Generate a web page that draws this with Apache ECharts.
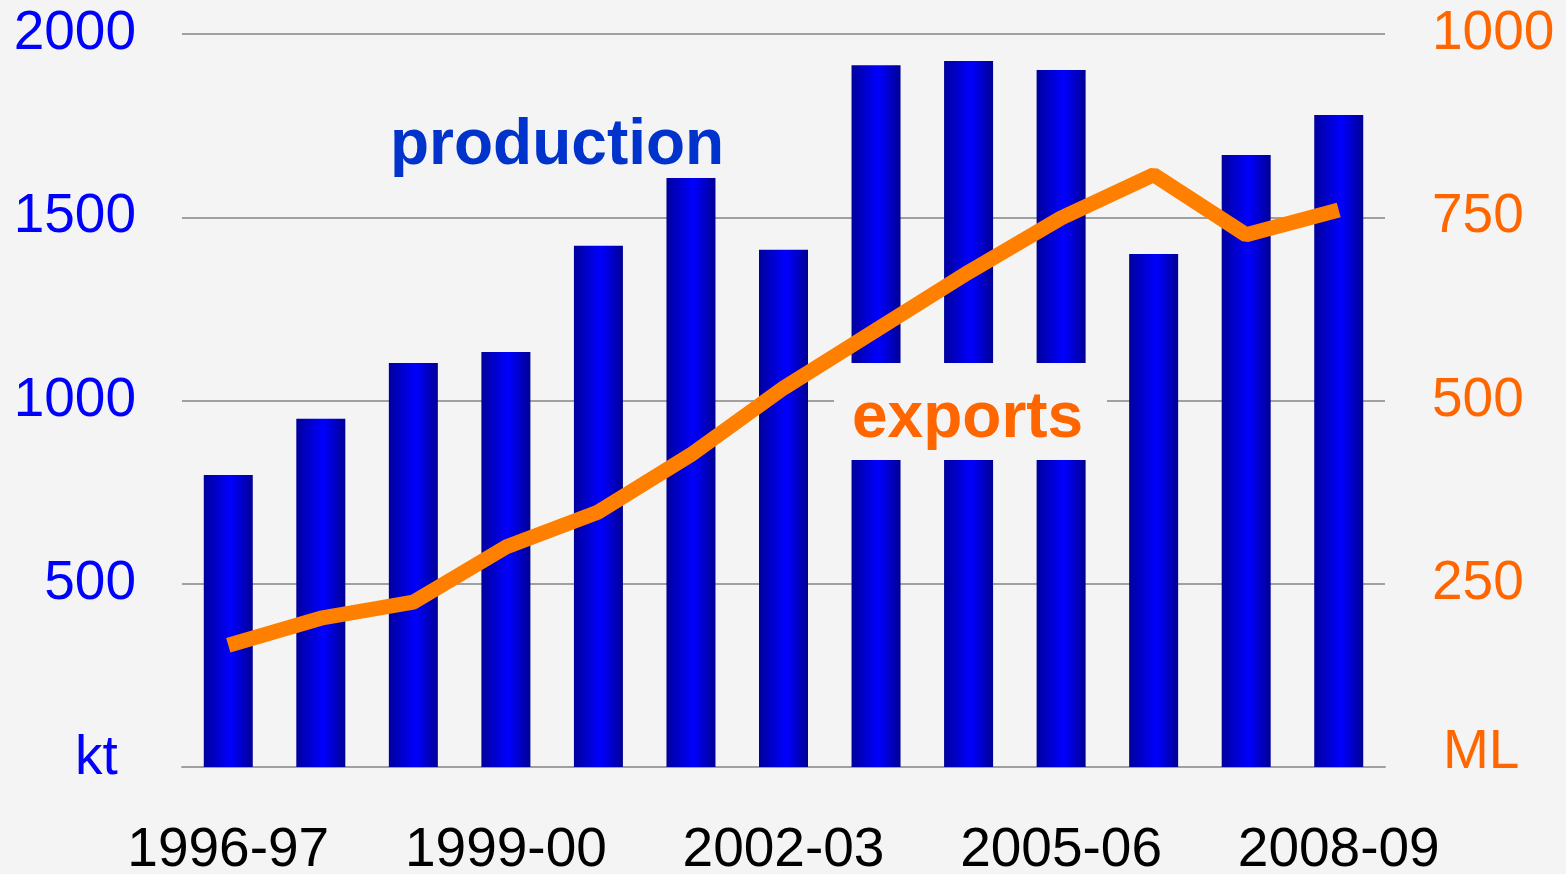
<!DOCTYPE html>
<html>
<head>
<meta charset="utf-8">
<script src="https://cdn.jsdelivr.net/npm/echarts@6/dist/echarts.min.js"></script>
<style>
  html, body { margin: 0; padding: 0; background: #f4f4f4; }
  #chart { width: 1566px; height: 874px; }
</style>
</head>
<body>
<div id="chart"></div>
<script>
// 年度
var years = ["1996-97", "1997-98", "1998-99", "1999-00", "2000-01", "2001-02", "2002-03",
             "2003-04", "2004-05", "2005-06", "2006-07", "2007-08", "2008-09"];
// production (kt)
var production = [797, 950, 1102, 1132, 1422, 1607, 1411, 1915, 1926, 1902, 1400, 1670, 1779];
// exports (ML)
var exportsML = [166, 203, 225, 300, 348, 426, 517, 596, 675, 749, 808, 726, 760];

var font = "Liberation Sans, Arial, sans-serif";
var myChart = echarts.init(document.getElementById("chart"));

var option = {
  backgroundColor: "#f4f4f4",
  animation: false,
  grid: { left: 182, right: 181, top: 34, bottom: 107, outerBoundsMode: "none" },
  xAxis: {
    type: "category",
    data: years,
    axisLine: { lineStyle: { color: "#a0a0a0", width: 2 } },
    axisTick: { show: false },
    axisLabel: {
      interval: 2,
      color: "#000",
      fontFamily: font,
      fontSize: 55,
      margin: 56
    }
  },
  yAxis: [
    {
      type: "value",
      min: 0,
      max: 2000,
      interval: 500,
      splitLine: { lineStyle: { color: "#a0a0a0", width: 2 } },
      axisLine: { show: false },
      axisTick: { show: false },
      axisLabel: {
        color: "#0000ff",
        fontFamily: font,
        fontSize: 55,
        margin: 46,
        formatter: function (v) { return v === 0 ? "" : v; }
      }
    },
    {
      type: "value",
      min: 0,
      max: 1000,
      interval: 250,
      splitLine: { show: false },
      axisLine: { show: false },
      axisTick: { show: false },
      axisLabel: {
        color: "#ff6600",
        fontFamily: font,
        fontSize: 55,
        margin: 47,
        formatter: function (v) { return v === 0 ? "" : v; }
      }
    }
  ],
  series: [
    {
      name: "production",
      type: "bar",
      data: production,
      barWidth: 49,
      z: 2,
      itemStyle: {
        color: new echarts.graphic.LinearGradient(0, 0, 1, 0, [
          { offset: 0, color: "#00009c" },
          { offset: 0.55, color: "#0000ff" },
          { offset: 1, color: "#000094" }
        ])
      }
    },
    {
      name: "exports",
      type: "line",
      yAxisIndex: 1,
      data: exportsML,
      symbol: "none",
      z: 4,
      lineStyle: { color: "#ff8000", width: 15 }
    }
  ],
  graphic: [
    {
      type: "text", left: 75, top: 731, z: 10,
      style: { text: "kt", fill: "#0000ff", font: "55px " + font }
    },
    {
      type: "text", left: 1443, top: 725, z: 10,
      style: { text: "ML", fill: "#ff6600", font: "55px " + font }
    },
    {
      type: "text", left: 390, top: 114, z: 10,
      style: { text: "production", fill: "#0033cc", font: "bold 64px " + font }
    },
    {
      // 背景块遮住柱子
      type: "rect", left: 834, top: 363, z: 3,
      shape: { width: 273, height: 97 },
      style: { fill: "#f4f4f4" }
    },
    {
      type: "text", left: 852, top: 387, z: 6,
      style: { text: "exports", fill: "#ff6600", font: "bold 64px " + font }
    }
  ]
};

myChart.setOption(option);
</script>
</body>
</html>
